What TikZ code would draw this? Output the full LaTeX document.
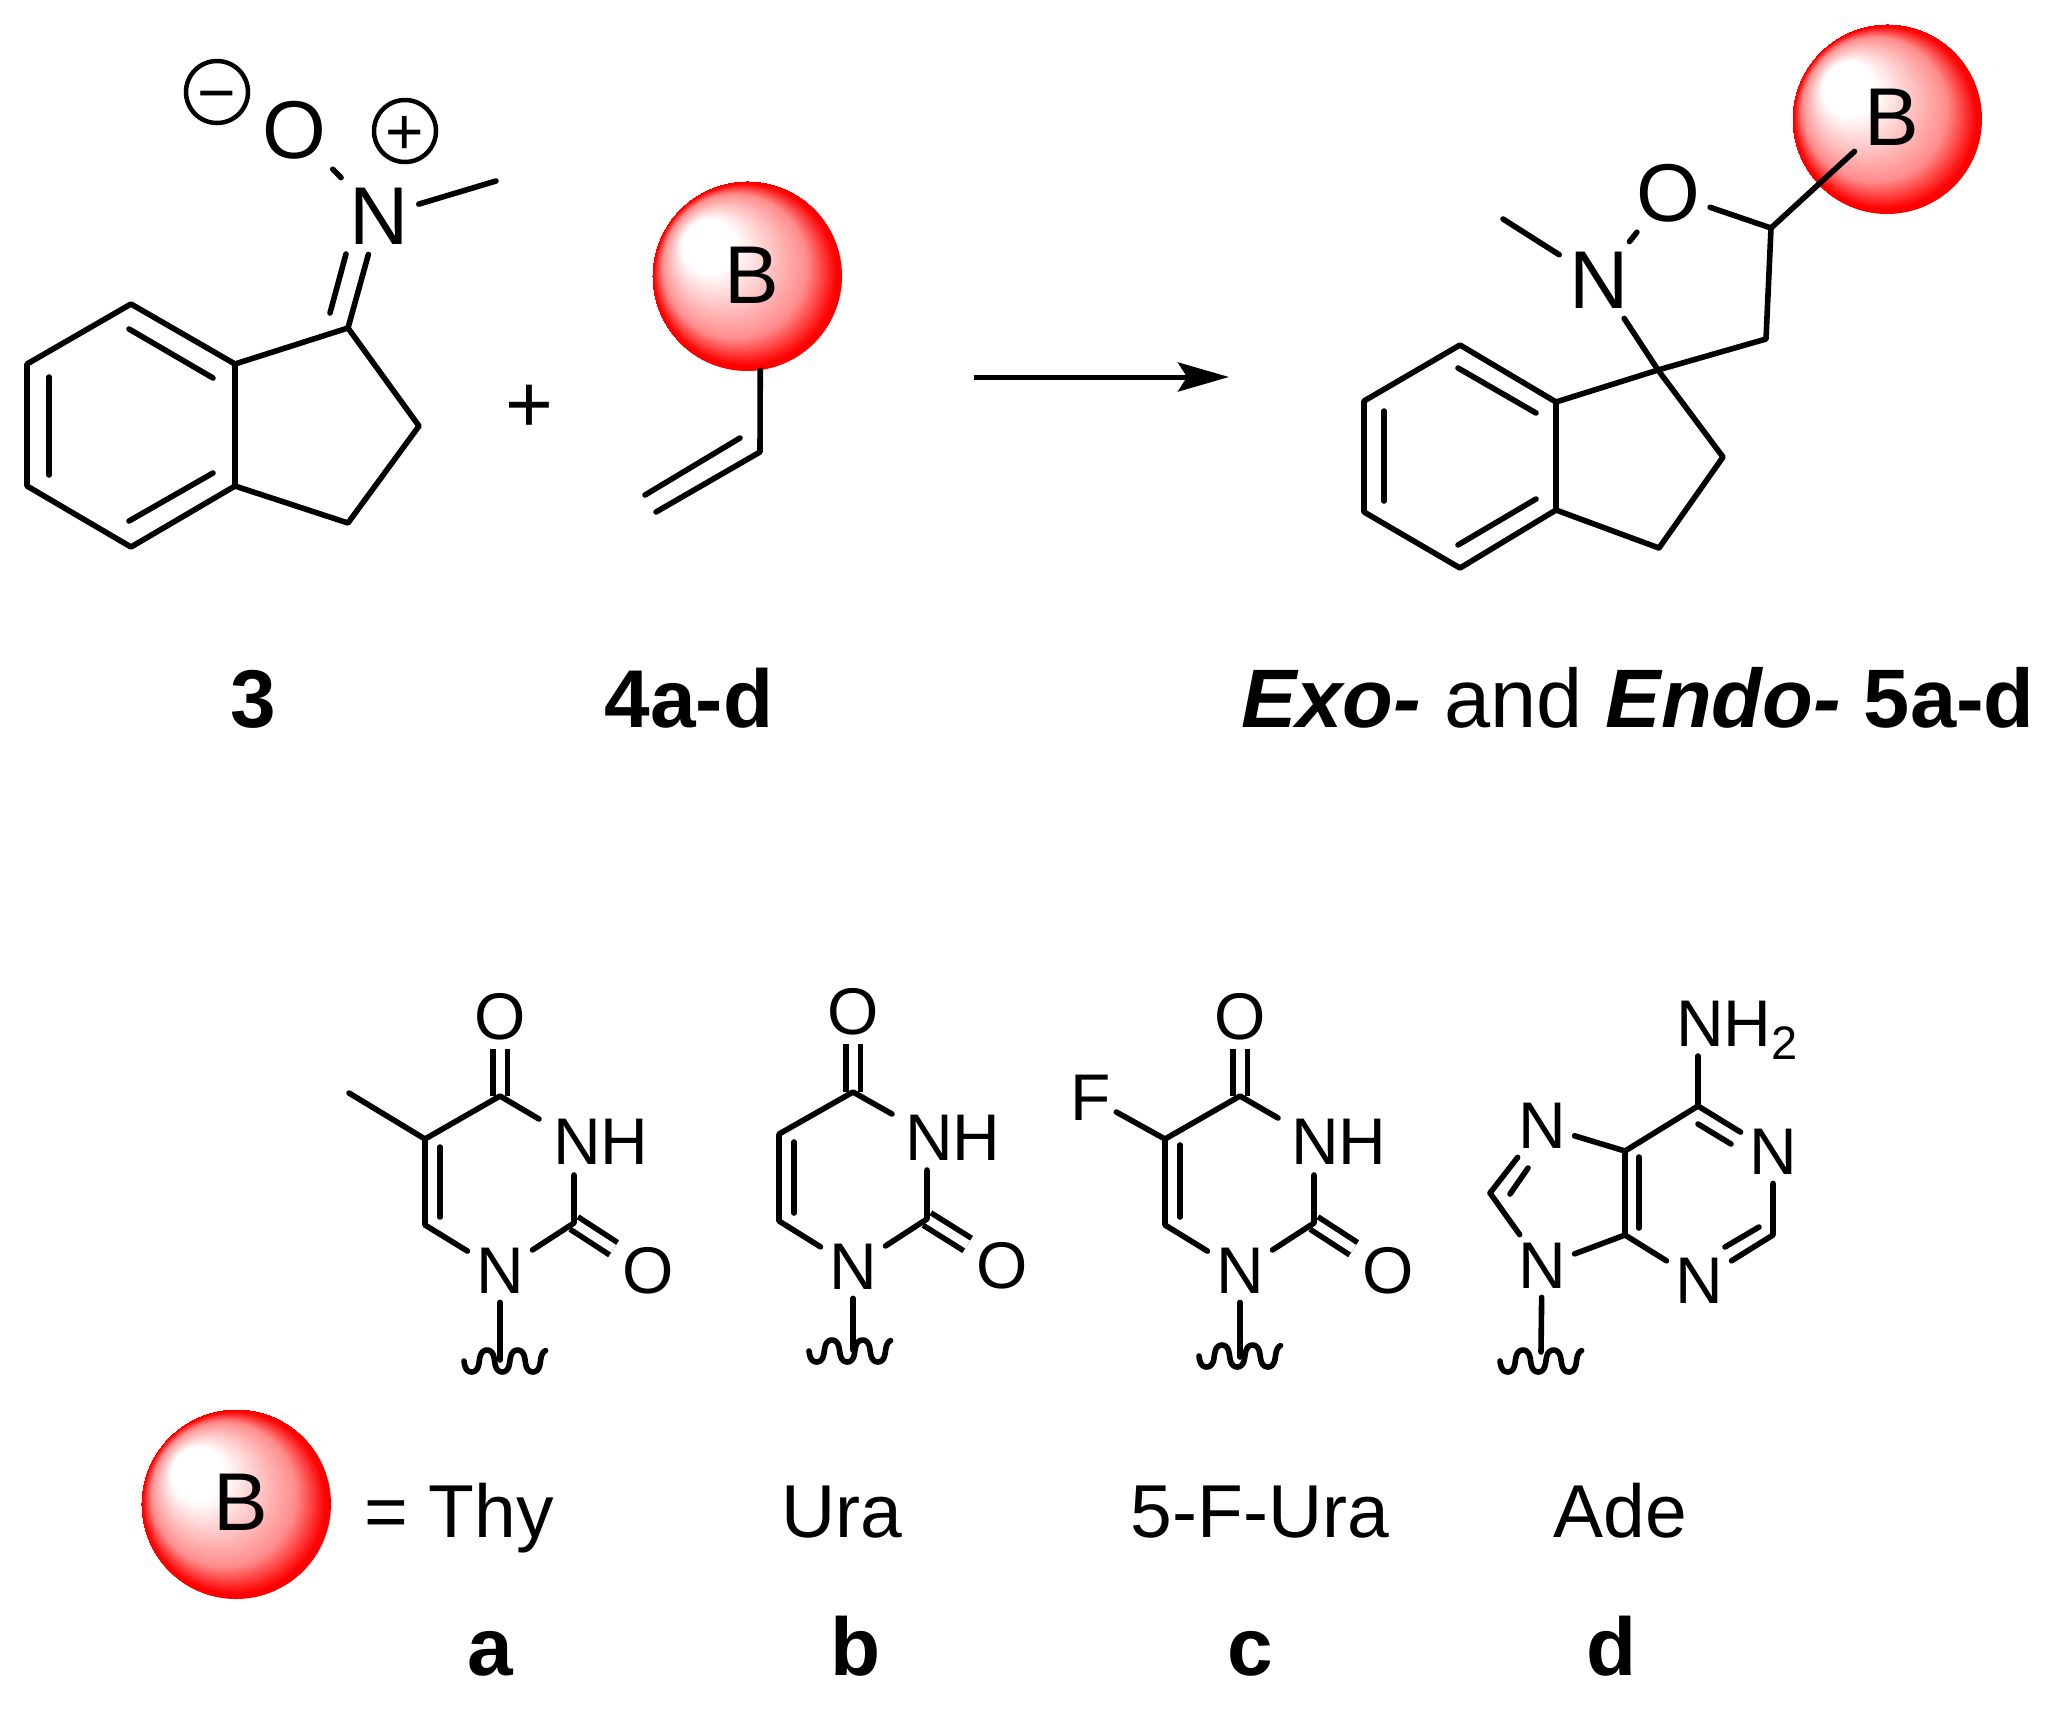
\documentclass[tikz,border=0pt]{standalone}
\usepackage{fontspec}
\setmainfont{Liberation Sans}
\usetikzlibrary{arrows.meta}

\pgfdeclareradialshading{redball}{\pgfpoint{-14bp}{11bp}}{color(0bp)=(white); color(7bp)=(white); color(19bp)=(red!45!white); color(24bp)=(red); color(25bp)=(red)}

\tikzset{
  bond/.style={line width=5.6pt, line cap=round, line join=round},
  dbond/.style={double, double distance=9pt, line width=5.6pt, line cap=butt},
  atom/.style={inner sep=10pt, font=\fontsize{82}{90}\selectfont},
  batom/.style={inner sep=8.5pt, font=\fontsize{66}{70}\selectfont},
  nhatom/.style={inner sep=0pt, anchor=base west, font=\fontsize{66}{70}\selectfont},
  ball/.style={circle, shading=redball, minimum size=190pt, inner sep=0pt},
  charge/.style={circle, draw, line width=4.5pt, minimum size=62pt, inner sep=0pt, text height=46pt, text depth=0pt, font=\fontsize{66}{70}\selectfont},
  compound/.style={inner sep=0pt, anchor=base, font=\fontsize{82}{90}\selectfont\bfseries},
  namelabel/.style={inner sep=0pt, anchor=base, font=\fontsize{75}{80}\selectfont}
}

\newcommand{\Squiggle}[2]{\draw[bond, shift={(#1,#2)}] plot[smooth, domain=0:2.7, samples=80] ({(\x-0.055*sin(720*\x))*30.6},{11*sin(360*\x)});}

\begin{document}
\begin{tikzpicture}[x=1pt,y=-1pt]
\useasboundingbox (0,0) rectangle (2056,1709);

\node[atom] (NtopA) at (379,216) {N};
\node[atom] (OtopA) at (294,130) {O};
\node[charge] (minusA) at (217,92) {−};
\node[charge] (plusA) at (405,131) {+};
\coordinate (MeA) at (496,181);
\coordinate (A1) at (131,304);
\coordinate (A2) at (27,364);
\coordinate (A3) at (27,486);
\coordinate (A4) at (131,547);
\coordinate (A5) at (235,486);
\coordinate (A6) at (235,364);
\coordinate (A7) at (348,328);
\coordinate (A8) at (419,426);
\coordinate (A9) at (348,523);
\coordinate (Ain1) at (129,329);
\coordinate (Ain2) at (213,378);
\coordinate (Ain3) at (49,377);
\coordinate (Ain4) at (49,475);
\coordinate (Ain5) at (129,521);
\coordinate (Ain6) at (213,473);
\coordinate (Ain7) at (346,254);
\coordinate (Ain8) at (330,313);

\draw[bond] (A1) -- (A2) -- (A3) -- (A4) -- (A5) -- (A6) -- cycle;
\draw[bond] (A6) -- (A7) -- (A8) -- (A9) -- (A5);
\draw[bond] (Ain1) -- (Ain2);
\draw[bond] (Ain3) -- (Ain4);
\draw[bond] (Ain5) -- (Ain6);
\draw[bond] (Ain7) -- (Ain8);
\draw[bond] (A7) -- (NtopA);
\draw[bond] (NtopA) -- (OtopA);
\draw[bond] (NtopA) -- (MeA);

\node[atom, inner sep=0pt] (plus) at (529,409) {+};

\node[ball] (ballB) at (747,276) {};
\node[atom] (labB) at (752,275) {B};
\coordinate (V1) at (760,452);
\coordinate (V2) at (656,512);
\coordinate (V3) at (740,438);
\coordinate (V4) at (645,495);
\draw[bond] (ballB.-82) -- (V1) -- (V2);
\draw[bond] (V3) -- (V4);

\coordinate (arrS) at (974,377);
\coordinate (arrE) at (1229,377);
\draw[line width=5pt, -{Stealth[length=51pt, width=29pt, inset=9pt]}] (arrS) -- (arrE);

\node[ball] (ballP) at (1887,119) {};
\node[atom] (labP) at (1892,117) {B};
\node[atom] (OP) at (1668,193) {O};
\node[atom] (NP) at (1599,280) {N};
\coordinate (P1) at (1460,345);
\coordinate (P2) at (1364,401);
\coordinate (P3) at (1364,512);
\coordinate (P4) at (1460,568);
\coordinate (P5) at (1556,510);
\coordinate (P6) at (1556,402);
\coordinate (P7) at (1658,370);
\coordinate (P8) at (1723,457);
\coordinate (P9) at (1659,548);
\coordinate (P10) at (1766,339);
\coordinate (P11) at (1771,228);
\coordinate (Pme) at (1503,219);
\coordinate (Pin1) at (1458,368);
\coordinate (Pin2) at (1536,413);
\coordinate (Pin3) at (1384,411);
\coordinate (Pin4) at (1384,501);
\coordinate (Pin5) at (1458,545);
\coordinate (Pin6) at (1536,499);

\draw[bond] (P1) -- (P2) -- (P3) -- (P4) -- (P5) -- (P6) -- cycle;
\draw[bond] (P6) -- (P7) -- (P8) -- (P9) -- (P5);
\draw[bond] (P7) -- (P10) -- (P11);
\draw[bond] (Pin1) -- (Pin2);
\draw[bond] (Pin3) -- (Pin4);
\draw[bond] (Pin5) -- (Pin6);
\draw[bond] (P7) -- (NP);
\draw[bond] (NP) -- (OP);
\draw[bond] (OP) -- (P11);
\draw[bond] (NP) -- (Pme);
\draw[bond] (P11) -- (labP);

\node[compound] (numA) at (253,727) {3};
\node[compound] (numB) at (689,727) {4a-d};
\node[inner sep=0pt, anchor=base, font=\fontsize{83}{90}\selectfont] (numP) at (1638,727) {\textbf{\textit{Exo-}} and \textbf{\textit{Endo-}} \textbf{5a-d}};

\node[batom] (OaT) at (500,1017) {O};
\node[batom] (ObT) at (648,1271) {O};
\node[batom] (NT) at (500,1271) {N};
\node[nhatom] (NHT) at (553,1164) {NH};
\coordinate (T1) at (500,1096);
\coordinate (T2) at (425,1139);
\coordinate (T3) at (425,1225);
\coordinate (T4) at (574,1223);
\coordinate (Tme) at (349,1093);
\coordinate (Tnh1) at (539,1119);
\coordinate (Tnh2) at (574,1175);
\coordinate (Tin1) at (440,1147);
\coordinate (Tin2) at (440,1217);
\coordinate (Tr) at (500,1360);
\draw[dbond] (T1) -- (OaT);
\draw[dbond] (T4) -- (ObT);
\draw[bond] (Tnh1) -- (T1) -- (T2) -- (T3) -- (NT);
\draw[bond] (Tnh2) -- (T4) -- (NT);
\draw[bond] (T2) -- (Tme);
\draw[bond] (Tin1) -- (Tin2);
\draw[bond] (NT) -- (Tr);
\Squiggle{464}{1361}

\node[batom] (OaU) at (853,1012) {O};
\node[batom] (ObU) at (1002,1266) {O};
\node[batom] (NU) at (853,1267) {N};
\node[nhatom] (NHU) at (905,1160) {NH};
\coordinate (U1) at (853,1092);
\coordinate (U2) at (779,1134);
\coordinate (U3) at (779,1221);
\coordinate (U4) at (927,1219);
\coordinate (Unh1) at (892,1114);
\coordinate (Unh2) at (927,1170);
\coordinate (Uin1) at (794,1142);
\coordinate (Uin2) at (794,1213);
\coordinate (Ur) at (853,1350);
\draw[dbond] (U1) -- (OaU);
\draw[dbond] (U4) -- (ObU);
\draw[bond] (Unh1) -- (U1) -- (U2) -- (U3) -- (NU);
\draw[bond] (Unh2) -- (U4) -- (NU);
\draw[bond] (Uin1) -- (Uin2);
\draw[bond] (NU) -- (Ur);
\Squiggle{809}{1351}

\node[batom] (OaF) at (1240,1017) {O};
\node[batom] (ObF) at (1388,1271) {O};
\node[batom] (NF) at (1240,1271) {N};
\node[batom, inner sep=5pt] (FF) at (1091,1098) {F};
\node[nhatom] (NHF) at (1291,1164) {NH};
\coordinate (F1) at (1240,1096);
\coordinate (F2) at (1165,1139);
\coordinate (F3) at (1165,1225);
\coordinate (F4) at (1314,1223);
\coordinate (Fnh1) at (1278,1118);
\coordinate (Fnh2) at (1314,1175);
\coordinate (Fin1) at (1180,1145);
\coordinate (Fin2) at (1180,1217);
\coordinate (Fr) at (1240,1357);
\draw[dbond] (F1) -- (OaF);
\draw[dbond] (F4) -- (ObF);
\draw[bond] (Fnh1) -- (F1) -- (F2) -- (F3) -- (NF);
\draw[bond] (Fnh2) -- (F4) -- (NF);
\draw[bond] (F2) -- (FF);
\draw[bond] (Fin1) -- (Fin2);
\draw[bond] (NF) -- (Fr);
\Squiggle{1199}{1356}

\node[nhatom] (NHA) at (1676,1046) {NH\raisebox{-.2em}{\fontsize{47}{50}\selectfont 2}};
\node[batom] (N1A) at (1773,1152) {N};
\node[batom] (N3A) at (1699,1281) {N};
\node[batom] (N7A) at (1542,1126) {N};
\node[batom] (N9A) at (1542,1266) {N};
\coordinate (D0) at (1698,1056);
\coordinate (D1) at (1698,1106);
\coordinate (D2) at (1773,1235);
\coordinate (D3) at (1625,1235);
\coordinate (D4) at (1625,1151);
\coordinate (D5) at (1490,1193);
\coordinate (Din1) at (1698,1124);
\coordinate (Din2) at (1731,1144);
\coordinate (Din3) at (1759,1227);
\coordinate (Din4) at (1725,1247);
\coordinate (Din5) at (1639,1157);
\coordinate (Din6) at (1639,1228);
\coordinate (Din7) at (1528,1168);
\coordinate (Din8) at (1510,1194);
\coordinate (Dr) at (1541,1352);
\draw[bond] (D0) -- (D1);
\draw[bond] (N1A) -- (D1) -- (D4) -- (N7A);
\draw[bond] (N1A) -- (D2) -- (N3A);
\draw[bond] (N3A) -- (D3) -- (N9A);
\draw[bond] (D3) -- (D4);
\draw[bond] (N7A) -- (D5) -- (N9A);
\draw[bond] (Din1) -- (Din2);
\draw[bond] (Din3) -- (Din4);
\draw[bond] (Din5) -- (Din6);
\draw[bond] (Din7) -- (Din8);
\draw[bond] (N9A) -- (Dr);
\Squiggle{1500}{1361}

\node[ball] (ballL) at (236,1504) {};
\node[atom] (labL) at (241,1502) {B};
\node[namelabel, anchor=base west] (thy) at (364,1537) {= Thy};
\node[namelabel] (ura) at (842,1537) {Ura};
\node[namelabel] (fura) at (1260,1537) {5-F-Ura};
\node[namelabel] (ade) at (1620,1537) {Ade};
\node[compound] (la) at (490,1675) {a};
\node[compound] (lb) at (856,1675) {b};
\node[compound] (lc) at (1250,1675) {c};
\node[compound] (ld) at (1612,1675) {d};

\end{tikzpicture}
\end{document}
